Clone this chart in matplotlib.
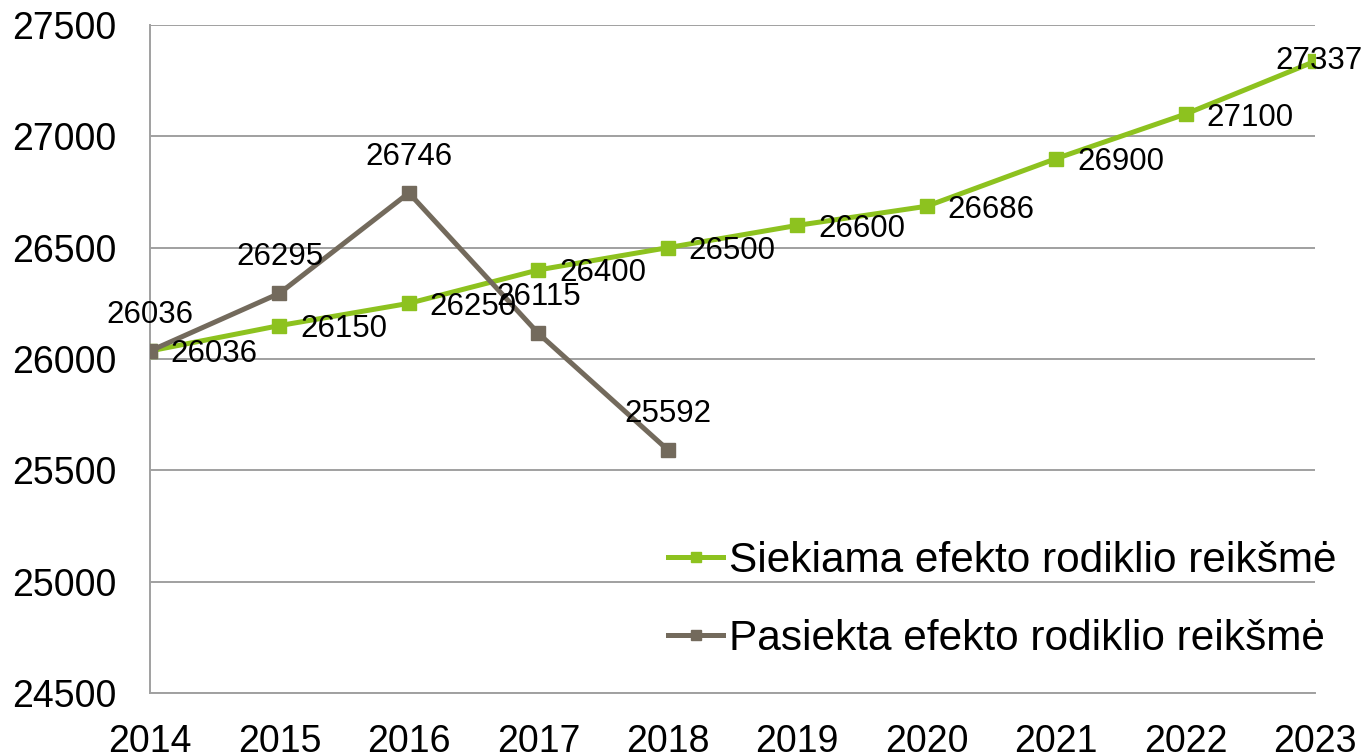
import matplotlib
matplotlib.use("Agg")
import matplotlib.pyplot as plt

years = [2014, 2015, 2016, 2017, 2018, 2019, 2020, 2021, 2022, 2023]
target_values = [26036, 26150, 26250, 26400, 26500, 26600, 26686, 26900, 27100, 27337]
actual_values = [26036, 26295, 26746, 26115, 25592]
target_label = "Siekiama efekto rodiklio reikšmė"
actual_label = "Pasiekta efekto rodiklio reikšmė"

green = "#8dc21f"
brown = "#736a5c"
grid_col = "#a0a0a0"

plt.rcParams['font.family'] = ['Liberation Sans', 'DejaVu Sans']

fig = plt.figure(figsize=(13.65, 7.55), dpi=100)
ax = fig.add_axes([150 / 1365, 1 - 693 / 755, 1165 / 1365, 668 / 755])

ax.plot(years, target_values, color=green, linewidth=3.6, marker='s', markersize=10.5,
        label=target_label, zorder=3)
ax.plot(years[:len(actual_values)], actual_values, color=brown, linewidth=3.6, marker='s',
        markersize=10.5, label=actual_label, zorder=4)

# data labels: green to the right, brown above
for i, (x, v) in enumerate(zip(years, target_values)):
    if i == len(years) - 1:
        ax.annotate(str(v), (x, v), xytext=(3, 0), textcoords='offset points',
                    ha='center', va='center', fontsize=22.5, zorder=5, annotation_clip=False)
    else:
        ax.annotate(str(v), (x, v), xytext=(15, -2.5), textcoords='offset points',
                    ha='left', va='center', fontsize=22.5, zorder=5)
for x, v in zip(years, actual_values):
    ax.annotate(str(v), (x, v), xytext=(0, 26), textcoords='offset points',
                ha='center', va='center', fontsize=22.5, zorder=5)

ax.set_xlim(2014, 2023)
ax.set_ylim(24500, 27500)
ax.set_xticks(years)
ax.set_yticks(range(24500, 27501, 500))
ax.tick_params(axis='both', length=0, labelsize=27)
ax.tick_params(axis='x', pad=22)
ax.tick_params(axis='y', pad=24)
ax.yaxis.grid(True, color=grid_col, linewidth=1.4)
ax.set_axisbelow(True)
for s in ['top', 'right']:
    ax.spines[s].set_visible(False)
for s in ['left', 'bottom']:
    ax.spines[s].set_color(grid_col)
    ax.spines[s].set_linewidth(1.4)

ax.legend(loc='center left', bbox_to_anchor=(668 / 1365, 1 - 600 / 755),
          bbox_transform=fig.transFigure, frameon=False, fontsize=30.5,
          handlelength=1.3, handletextpad=0.15, labelspacing=0.9, markerscale=0.7,
          borderpad=0, borderaxespad=0)

fig.savefig('out.png', dpi=100)
